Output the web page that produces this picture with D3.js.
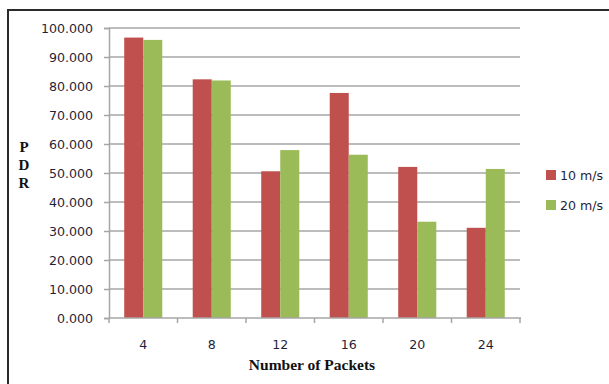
<!DOCTYPE html>
<html><head><meta charset="utf-8">
<script src="https://cdn.jsdelivr.net/npm/d3@7"></script>
<style>body{margin:0;background:#fff}svg{display:block}</style>
</head><body>
<script>
const categories = ["4","8","12","16","20","24"];
const series = ["10 m/s","20 m/s"];
const speed10 = [96.7, 82.3, 50.6, 77.6, 52.1, 31.1];
const speed20 = [95.9, 81.9, 57.9, 56.3, 33.2, 51.4];
const yTicks = [0,10,20,30,40,50,60,70,80,90,100];
const colors = ["#c0504d","#9bbb59"];

const W = 609, H = 384;
const svg = d3.select("body").append("svg").attr("width", W).attr("height", H);

// outer frame
svg.append("path").attr("d", "M8," + H + "V10H" + W)
  .attr("fill","none").attr("stroke","#2b2b2b").attr("stroke-width",2);

const x0 = d3.scaleBand().domain(categories).range([109, 520]).paddingInner(0).paddingOuter(0);
const x1 = d3.scaleBand().domain(series).range([0, x0.bandwidth()]).paddingInner(0).paddingOuter(0.8);
const y = d3.scaleLinear().domain([0,100]).range([318, 28]);

// gridlines
svg.append("g").selectAll("line").data(yTicks.filter(d=>d>0)).join("line")
  .attr("x1",109).attr("x2",520).attr("y1",d=>y(d)).attr("y2",d=>y(d))
  .attr("stroke","#a6a6a6").attr("stroke-width",1.5);

// y axis
const ya = svg.append("g").attr("transform","translate(109,0)")
  .call(d3.axisLeft(y).tickValues(yTicks).tickFormat(d3.format(".3f")).tickSizeOuter(0).tickSize(5).tickPadding(11));
ya.select(".domain").attr("stroke","#a6a6a6").attr("stroke-width",1.5);
ya.selectAll(".tick line").attr("stroke","#a6a6a6").attr("stroke-width",1.5);
ya.selectAll("text").attr("font-family","'DejaVu Sans', Verdana, sans-serif").attr("font-size",12.6).attr("fill","#1f1f3a");

// bars
const data = categories.map((c,i)=>({c, vals:[speed10[i], speed20[i]]}));
svg.append("g").selectAll("g").data(data).join("g")
  .attr("transform", d=>"translate(" + x0(d.c) + ",0)")
  .selectAll("rect").data(d=>d.vals.map((v,j)=>({s:series[j], v, j}))).join("rect")
  .attr("x", d=>x1(d.s)).attr("width", x1.bandwidth())
  .attr("y", d=>y(d.v)).attr("height", d=>y(0)-y(d.v))
  .attr("fill", d=>colors[d.j]);

// x axis
const xa = svg.append("g").attr("transform","translate(0,318)")
  .call(d3.axisBottom(x0).tickSize(0).tickPadding(22));
xa.select(".domain").remove();
xa.selectAll("text").attr("font-family","'DejaVu Sans', Verdana, sans-serif").attr("font-size",12.6).attr("fill","#1f1f3a");
svg.append("line").attr("x1",109).attr("x2",521).attr("y1",318).attr("y2",318)
  .attr("stroke","#a6a6a6").attr("stroke-width",1.5);
const bounds = categories.map(c=>x0(c)).concat([x0.range()[1]]);
svg.append("g").selectAll("line").data(bounds).join("line")
  .attr("x1",d=>d).attr("x2",d=>d).attr("y1",318).attr("y2",323)
  .attr("stroke","#a6a6a6").attr("stroke-width",1.5);

// axis titles
svg.append("text").attr("x",312).attr("y",370).attr("text-anchor","middle")
  .attr("font-family","'Liberation Serif','Times New Roman',serif").attr("font-weight","bold")
  .attr("font-size",15.5).attr("fill","#111").text("Number of Packets");
const pdr = ["P","D","R"];
svg.append("g").selectAll("text").data(pdr).join("text")
  .attr("x",24).attr("y",(d,i)=>152+i*18).attr("text-anchor","middle")
  .attr("font-family","'Liberation Serif','Times New Roman',serif").attr("font-weight","bold")
  .attr("font-size",15).attr("fill","#111").text(d=>d);

// legend
const lg = svg.append("g").selectAll("g").data(series).join("g")
  .attr("transform",(d,i)=>"translate(546," + (170 + i*30) + ")");
lg.append("rect").attr("width",10).attr("height",10).attr("fill",(d,i)=>colors[i]);
lg.append("text").attr("x",14).attr("y",10).attr("font-family","'DejaVu Sans', Verdana, sans-serif")
  .attr("font-size",12.6).attr("fill","#1f1f3a").text(d=>d);
</script>
</body></html>
